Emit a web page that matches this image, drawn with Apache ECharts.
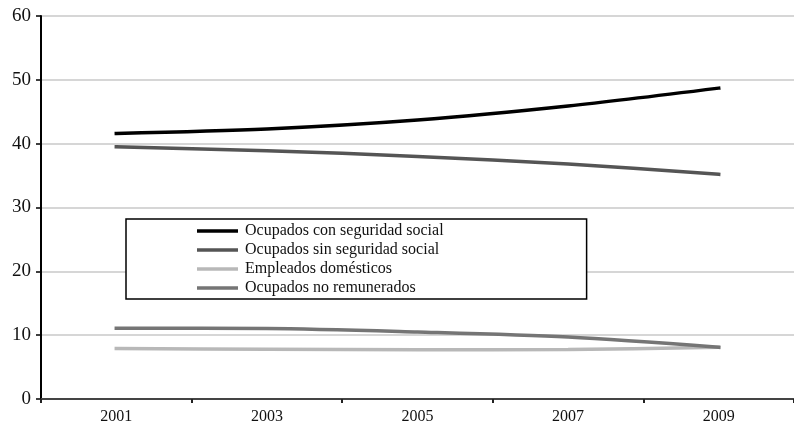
<!DOCTYPE html>
<html>
<head>
<meta charset="utf-8">
<style>
  html, body { margin: 0; padding: 0; background: #fff; }
  #chart { width: 794px; height: 425px; }
</style>
<script src="https://cdn.jsdelivr.net/npm/echarts@6/dist/echarts.min.js"></script>
</head>
<body>
<div id="chart"></div>
<script>
// Years shown on the category axis
const years = ['2001', '2003', '2005', '2007', '2009'];

// Share of employment (%) by group
const conSeguridad = [41.6, 42.3, 43.7, 45.9, 48.7];
const sinSeguridad = [39.5, 38.9, 38.0, 36.8, 35.2];
const domesticos = [7.9, 7.8, 7.7, 7.75, 8.1];
const noRemunerados = [11.1, 11.05, 10.5, 9.7, 8.1];

const seriesNames = [
  'Ocupados con seguridad social',
  'Ocupados sin seguridad social',
  'Empleados domésticos',
  'Ocupados no remunerados'
];

const FONT = '"Liberation Serif", "DejaVu Serif", serif';

function lineSeries(name, data, color) {
  return {
    name: name,
    type: 'line',
    data: data,
    smooth: 0.3,
    symbol: 'none',
    lineStyle: { color: color, width: 3.5, cap: 'square' },
    itemStyle: { color: color }
  };
}

const chart = echarts.init(document.getElementById('chart'), null, { renderer: 'canvas' });

chart.setOption({
  animation: false,
  backgroundColor: '#fff',
  textStyle: { fontFamily: FONT },
  // the plot runs a few pixels past the right edge of the canvas
  grid: { left: 41, right: -4, top: 16, bottom: 26, containLabel: false },
  legend: {
    orient: 'vertical',
    left: 126,
    top: 219,
    padding: [4, 143, 3, 71],
    itemGap: 3,
    itemWidth: 41,
    itemHeight: 16,
    backgroundColor: '#fff',
    borderColor: '#000',
    borderWidth: 1.5,
    icon: 'path://M0,6.5 L41,6.5 L41,10 L0,10 Z',
    textStyle: { fontFamily: FONT, fontSize: 16, color: '#111', padding: [0, 0, 0, 2] },
    data: seriesNames
  },
  xAxis: {
    type: 'category',
    data: years,
    boundaryGap: true,
    axisLine: { show: true, lineStyle: { color: '#444', width: 2 } },
    axisTick: { show: true, inside: false, length: 4, lineStyle: { color: '#222', width: 2 } },
    axisLabel: { color: '#111', fontFamily: FONT, fontSize: 16, margin: 10 },
    splitLine: { show: false }
  },
  yAxis: {
    type: 'value',
    min: 0,
    max: 60,
    interval: 10,
    axisLine: { show: true, lineStyle: { color: '#000', width: 2 } },
    axisTick: { show: true, inside: false, length: 5, lineStyle: { color: '#000', width: 1.5 } },
    axisLabel: { color: '#111', fontFamily: FONT, fontSize: 19, margin: 10 },
    splitLine: { show: true, lineStyle: { color: '#c8c8c8', width: 1.5 } }
  },
  series: [
    lineSeries(seriesNames[0], conSeguridad, '#000000'),
    lineSeries(seriesNames[1], sinSeguridad, '#555555'),
    lineSeries(seriesNames[2], domesticos, '#b8b8b8'),
    lineSeries(seriesNames[3], noRemunerados, '#757575')
  ]
});
</script>
</body>
</html>
